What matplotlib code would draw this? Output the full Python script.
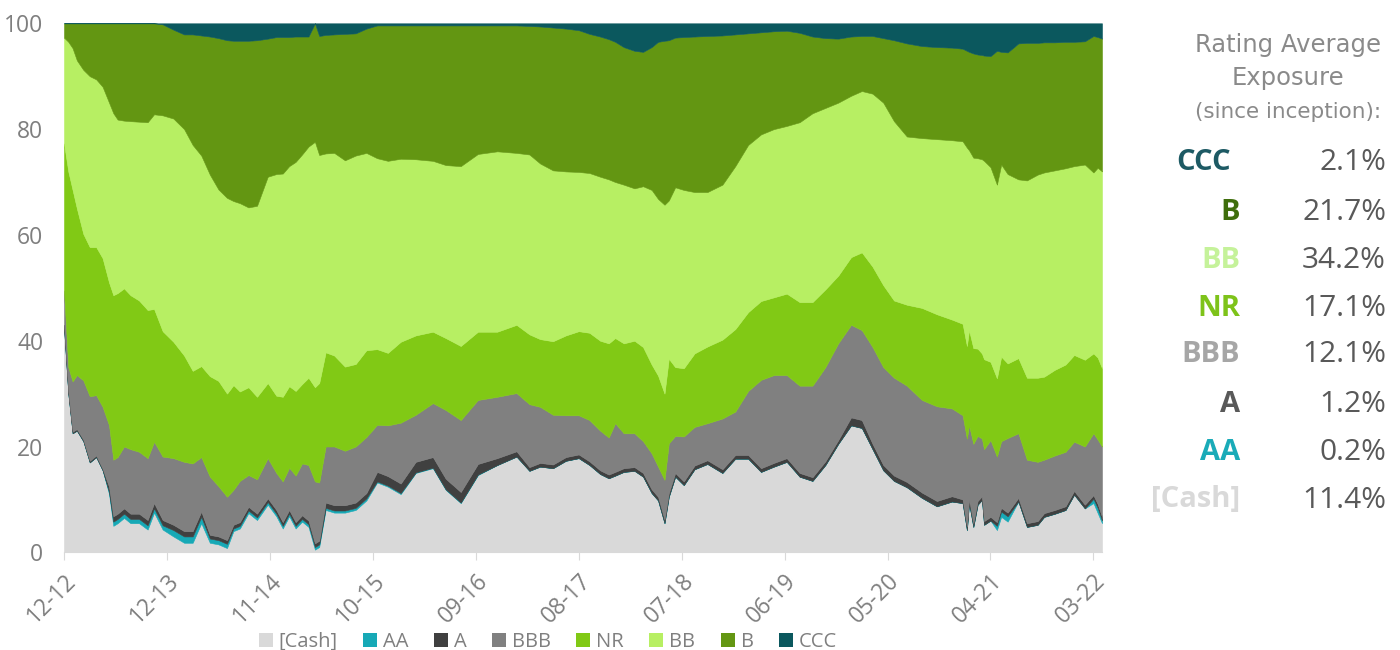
import matplotlib
matplotlib.use("Agg")
import matplotlib.pyplot as plt
from matplotlib.patches import Patch

# ---- data (weekly index since 12-2012) ----
weeks = [0, 2, 4, 6, 9, 12, 15, 18, 21, 23, 25, 28, 31, 35, 39, 42, 46, 51, 56, 60,
         64, 68, 72, 76, 79, 82, 86, 90, 95, 99, 102, 105, 108, 111, 114, 117, 119, 122, 126, 131,
         136, 141, 146, 151, 157, 164, 172, 178, 185, 193, 202, 211, 217, 222, 228, 234, 240, 245, 250, 254,
         257, 261, 266, 270, 274, 277, 280, 282, 285, 289, 294, 300, 307, 313, 319, 325, 331, 337, 343, 349,
         355, 361, 367, 372, 377, 382, 387, 393, 400, 407, 414, 419, 421, 422, 424, 426, 428, 429, 432, 435,
         437, 440, 445, 449, 454, 457, 462, 467, 471, 476, 480, 482, 484]

cash = [42.5, 30.0, 22.5, 23.0, 21.0, 17.0, 18.0, 15.5, 11.0, 5.0, 5.5, 6.5, 5.5, 5.5, 4.3, 7.5, 4.3, 3.0, 1.8, 1.8,
        5.5, 1.8, 1.5, 0.8, 4.0, 4.5, 7.4, 6.1, 9.0, 6.8, 4.5, 6.8, 4.5, 5.8, 4.8, 0.5, 1.0, 8.0, 7.5, 7.5,
        8.0, 9.8, 13.2, 12.4, 11.0, 15.0, 15.9, 11.8, 9.3, 14.6, 16.5, 18.1, 15.4, 16.2, 15.9, 17.3, 17.8, 16.5, 14.8, 14.0,
        14.5, 15.2, 15.4, 14.3, 11.2, 9.8, 5.5, 10.5, 14.3, 12.7, 15.7, 16.7, 15.0, 17.7, 17.7, 15.2, 16.2, 17.1, 14.3, 13.5,
        16.5, 20.5, 24.0, 23.5, 19.5, 15.5, 13.5, 12.3, 10.3, 8.7, 9.6, 9.3, 4.2, 9.3, 4.8, 9.0, 9.9, 5.2, 6.0, 4.2,
        6.7, 5.8, 9.6, 4.8, 5.2, 6.7, 7.3, 8.0, 10.9, 8.3, 9.3, 7.4, 5.5]

aa = [0, 0, 0, 0, 0, 0, 0, 0, 0.4, 0.8, 0.8, 0.8, 0.8, 0.8, 0.8, 0.8, 0.8, 1.2, 1.2, 1.2,
      1.2, 0.8, 0.8, 0.8, 0.5, 0.5, 0.5, 0.5, 0.5, 0.5, 0.5, 0.5, 0.5, 0.5, 0.5, 0.5, 0.5, 0.4, 0.4, 0.4,
      0.4, 0.4, 0.2, 0.2, 0.2, 0.1, 0.1, 0.1, 0.1, 0.1, 0, 0, 0, 0, 0, 0, 0, 0, 0, 0,
      0, 0, 0, 0, 0, 0, 0, 0, 0, 0, 0, 0, 0, 0, 0, 0, 0, 0, 0, 0,
      0, 0, 0, 0, 0, 0, 0, 0, 0, 0, 0, 0, 0, 0, 0, 0, 0, 0, 0, 0.8,
      1.0, 1.0, 0, 0, 0, 0, 0, 0, 0, 0, 0.8, 1.0, 0.5]

a = [0.5, 0.3, 0.3, 0.3, 0.3, 0.3, 0.3, 0.3, 1.0, 1.0, 1.0, 1.0, 1.0, 1.0, 1.0, 1.0, 1.0, 1.0, 1.0, 1.0,
     1.0, 0.7, 0.7, 0.7, 0.7, 0.7, 0.7, 0.7, 0.7, 0.7, 0.7, 0.7, 0.7, 0.7, 0.7, 0.7, 0.7, 1.0, 1.0, 1.0,
     1.0, 1.0, 1.8, 1.8, 1.8, 2.0, 2.0, 2.0, 2.0, 2.0, 1.3, 1.0, 0.7, 0.7, 0.7, 0.7, 0.7, 0.7, 0.7, 0.7,
     0.7, 0.7, 0.7, 0.7, 0.7, 0.7, 0.7, 0.7, 0.7, 0.7, 0.7, 0.7, 0.7, 0.7, 0.7, 0.7, 0.7, 0.7, 0.7, 0.7,
     0.7, 0.7, 1.5, 1.5, 1.0, 1.0, 1.0, 1.0, 1.0, 1.0, 1.0, 0.7, 0.7, 0.7, 0.7, 0.7, 0.7, 0.7, 0.7, 0.7,
     0.7, 0.7, 0.7, 0.7, 0.7, 0.7, 0.7, 0.7, 0.7, 0.7, 0.7, 0.7, 0.7]

bbb = [6.5, 4.7, 9.5, 10.2, 11.2, 12.2, 11.4, 11.7, 11.6, 10.7, 10.7, 11.7, 12.2, 11.7, 11.7, 11.6, 12.0, 12.6, 13.1, 12.8,
       10.3, 11.0, 9.5, 8.2, 6.6, 7.8, 6.0, 6.5, 7.6, 7.0, 7.7, 8.0, 8.8, 9.8, 10.5, 11.7, 11.0, 10.6, 11.1, 10.3,
       10.6, 10.6, 8.9, 9.6, 11.5, 8.9, 10.2, 13.0, 13.6, 12.1, 11.6, 11.0, 11.9, 10.6, 9.4, 7.9, 7.4, 7.8, 7.5, 7.0,
       9.2, 6.6, 6.4, 6.0, 6.8, 5.7, 7.5, 9.4, 7.0, 8.5, 7.3, 7.0, 9.6, 8.2, 12.1, 16.7, 16.6, 15.7, 16.5, 17.3,
       17.8, 18.3, 17.5, 17.0, 18.3, 18.5, 18.5, 18.2, 17.5, 17.9, 16.6, 15.9, 16.6, 14.0, 15.0, 12.3, 10.9, 13.6, 14.5, 12.4,
       12.6, 14.1, 12.2, 12.0, 11.2, 10.1, 10.3, 10.3, 9.3, 11.0, 11.7, 12.2, 13.3]

nr = [27.8, 37.0, 36.2, 31.5, 27.7, 28.2, 28.0, 28.1, 27.0, 31.1, 31.0, 29.9, 29.1, 28.6, 28.0, 25.1, 23.7, 22.0, 20.1, 17.5,
      17.2, 19.0, 19.9, 19.5, 19.8, 16.9, 16.6, 15.6, 14.2, 14.6, 16.0, 15.4, 16.0, 15.0, 16.5, 17.8, 18.8, 17.8, 17.2, 15.9,
      15.6, 16.4, 14.3, 13.7, 15.3, 15.0, 13.5, 13.6, 14.0, 12.9, 12.3, 12.9, 13.2, 12.8, 13.9, 15.1, 15.9, 16.5, 17.0, 17.8,
      16.1, 17.0, 17.5, 17.8, 16.8, 17.2, 16.3, 16.0, 13.0, 12.9, 13.9, 14.5, 14.9, 15.6, 14.9, 14.9, 14.7, 15.4, 15.8, 15.8,
      14.7, 12.8, 12.8, 14.7, 15.2, 15.5, 14.6, 15.3, 17.4, 17.4, 16.8, 17.3, 17.5, 18.0, 18.1, 16.5, 16.1, 17.0, 14.8, 14.8,
      16.0, 14.1, 14.2, 15.5, 15.9, 15.7, 16.2, 16.5, 16.4, 16.4, 15.1, 15.5, 14.8]

bb = [20.0, 24.5, 26.8, 28.0, 31.0, 32.3, 31.7, 32.4, 34.0, 34.4, 32.8, 31.7, 32.9, 33.8, 35.5, 36.8, 40.8, 42.2, 42.8, 42.7,
      39.8, 38.1, 36.2, 37.0, 34.8, 35.6, 34.0, 36.1, 39.0, 41.9, 42.2, 41.6, 43.3, 43.4, 43.7, 46.4, 43.1, 37.6, 38.3, 39.0,
      39.4, 37.3, 36.1, 36.3, 34.6, 33.3, 32.3, 32.7, 34.0, 33.6, 34.1, 32.5, 34.0, 33.2, 32.3, 31.0, 30.1, 30.2, 31.0, 31.0,
      29.5, 30.0, 28.8, 30.4, 33.0, 33.4, 35.7, 29.9, 34.0, 33.7, 30.5, 29.2, 29.3, 30.8, 31.6, 31.5, 31.8, 31.7, 34.0, 35.7,
      34.3, 32.7, 30.5, 30.5, 32.7, 34.5, 33.9, 31.8, 32.1, 33.1, 33.9, 34.5, 37.5, 34.0, 36.0, 36.0, 36.7, 37.5, 36.8, 36.6,
      36.3, 35.8, 33.8, 37.3, 38.4, 38.6, 37.7, 37.1, 35.7, 36.9, 34.2, 35.9, 37.2]

b = [2.7, 3.5, 4.7, 7.0, 8.8, 10.0, 10.6, 12.0, 15.0, 17.0, 18.2, 18.4, 18.5, 18.6, 18.7, 17.2, 17.2, 16.8, 17.9, 20.9,
     22.7, 26.1, 28.6, 29.8, 30.3, 30.7, 31.5, 31.3, 26.1, 25.9, 25.8, 24.4, 23.7, 22.3, 20.8, 22.4, 22.5, 22.4, 22.4, 23.9,
     23.1, 23.5, 25.1, 25.6, 25.2, 25.3, 25.6, 26.4, 26.6, 24.3, 23.8, 24.1, 24.3, 25.9, 27.0, 27.0, 26.8, 26.3, 26.5, 26.5,
     26.5, 26.0, 26.0, 25.4, 27.0, 29.7, 31.0, 30.3, 28.3, 28.9, 29.4, 29.5, 28.2, 24.9, 21.1, 19.3, 18.5, 18.0, 16.9, 14.5,
     13.2, 12.1, 11.2, 10.4, 10.9, 12.2, 15.3, 17.6, 17.4, 17.4, 17.5, 17.5, 18.3, 18.6, 19.7, 19.6, 19.7, 19.9, 21.0, 25.3,
     21.3, 23.0, 25.7, 26.0, 24.9, 24.6, 24.2, 23.9, 23.5, 23.3, 25.8, 24.7, 25.1]

ccc = [0, 0, 0, 0, 0, 0, 0, 0, 0, 0, 0, 0, 0, 0, 0, 0, 0.2, 1.2, 2.1, 2.1,
       2.3, 2.5, 2.8, 3.2, 3.3, 3.3, 3.3, 3.2, 2.9, 2.6, 2.6, 2.6, 2.5, 2.5, 2.5, 0.0, 2.4, 2.2, 2.1, 2.0,
       1.9, 1.0, 0.4, 0.4, 0.4, 0.4, 0.4, 0.4, 0.4, 0.4, 0.4, 0.4, 0.5, 0.6, 0.8, 1.0, 1.3, 2.0, 2.5, 3.0,
       3.5, 4.5, 5.2, 5.4, 4.5, 3.5, 3.3, 3.2, 2.7, 2.6, 2.5, 2.4, 2.3, 2.1, 1.9, 1.7, 1.5, 1.4, 1.8, 2.5,
       2.8, 2.9, 2.5, 2.4, 2.4, 2.8, 3.2, 3.8, 4.3, 4.5, 4.6, 4.8, 5.2, 5.4, 5.7, 5.9, 6.0, 6.1, 6.2, 5.2,
       5.4, 5.5, 3.8, 3.7, 3.7, 3.6, 3.6, 3.5, 3.5, 3.4, 2.4, 2.6, 2.9]

series_names = ["[Cash]", "AA", "A", "BBB", "NR", "BB", "B", "CCC"]
series_colors = ["#d9d9d9", "#17a9b6", "#404040", "#808080", "#81c915", "#b7ef63", "#639612", "#0b585e"]

tick_weeks = [0, 48, 96, 144, 192, 240, 288, 336, 384, 432, 480]
tick_labels = ["12-12", "12-13", "11-14", "10-15", "09-16", "08-17", "07-18", "06-19", "05-20", "04-21", "03-22"]

panel_labels = ["CCC", "B", "BB", "NR", "BBB", "A", "AA", "[Cash]"]
panel_values = ["2.1%", "21.7%", "34.2%", "17.1%", "12.1%", "1.2%", "0.2%", "11.4%"]
panel_colors = ["#1d5a64", "#3f6e0c", "#c5f29a", "#7ec31a", "#a6a6a6", "#595959", "#1aabb8", "#d9d9d9"]

# ---- figure ----
W, H = 1400, 650
fig = plt.figure(figsize=(W / 100, H / 100), dpi=100)
ax = fig.add_axes([64 / W, 1 - 552.3 / H, (1102 - 64) / W, (552.3 - 23.3) / H])

polys = ax.stackplot(weeks, cash, aa, a, bbb, nr, bb, b, ccc, colors=series_colors)
for p, c in zip(polys, series_colors):
    p.set_edgecolor(c)
    p.set_linewidth(0.4)

ax.set_xlim(0, 484)
ax.set_ylim(0, 100)
for s in ["top", "right", "left"]:
    ax.spines[s].set_visible(False)
ax.spines["bottom"].set_color("#d9d9d9")

font = "Open Sans"
ax.set_yticks(range(0, 101, 20))
ax.set_yticklabels([str(v) for v in range(0, 101, 20)], fontfamily=font)
ax.tick_params(axis="y", length=0, pad=15, labelsize=16.5, labelcolor="#7f7f7f")
ax.set_xticks(tick_weeks)
ax.set_xticklabels(tick_labels, rotation=45, ha="right", rotation_mode="anchor", fontfamily=font)
ax.tick_params(axis="x", length=6, color="#d9d9d9", pad=6, labelsize=16.5, labelcolor="#7f7f7f")

handles = [Patch(facecolor=c, edgecolor="none") for c in series_colors]
fig.legend(handles, series_names, loc="center", bbox_to_anchor=(548 / W, 1 - 642 / H), ncol=8,
           frameon=False, prop={"family": font, "size": 14.5}, labelcolor="#7f7f7f",
           handlelength=0.7, handleheight=0.7, handletextpad=0.3, columnspacing=1.25)

# ---- right panel ----
title_c = "#8a8a8a"
fig.text(1288 / W, 1 - 45 / H, "Rating Average", ha="center", va="center", fontsize=17.5, color=title_c,
         fontfamily="DejaVu Sans")
fig.text(1288 / W, 1 - 78 / H, "Exposure", ha="center", va="center", fontsize=17.5, color=title_c,
         fontfamily="DejaVu Sans")
fig.text(1288 / W, 1 - 112 / H, "(since inception):", ha="center", va="center", fontsize=15.5, color=title_c,
         fontfamily="DejaVu Sans")

row_y = [163, 212, 260, 308, 355, 404, 452, 500]
for lab, val, col, y in zip(panel_labels, panel_values, panel_colors, row_y):
    xr = 1231 if lab == "CCC" else 1240
    fig.text(xr / W, 1 - y / H, lab, ha="right", va="center", fontsize=21, fontweight="bold",
             color=col, fontfamily=font)
    fig.text(1386 / W, 1 - y / H, val, ha="right", va="center", fontsize=21.5, color="#595959",
             fontfamily=font)

fig.savefig("out.png", dpi=100)
